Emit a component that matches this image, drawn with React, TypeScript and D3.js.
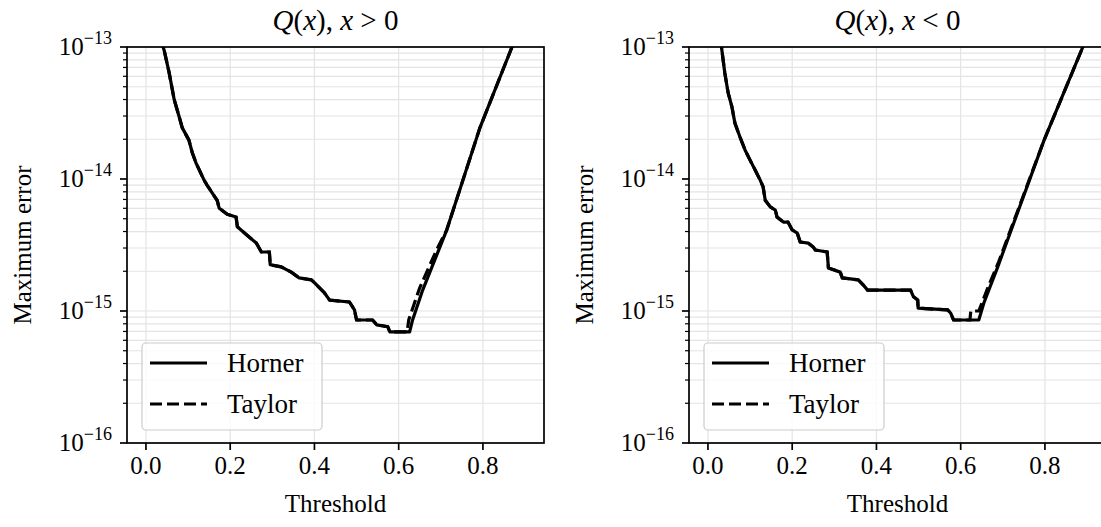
import React from "react";
import * as d3 from "d3";

// threshold values and maximum errors
const posThreshold = [0.031, 0.043, 0.055, 0.067, 0.079, 0.086, 0.102, 0.11, 0.119, 0.138, 0.145, 0.169, 0.174, 0.193, 0.214, 0.217, 0.238, 0.262, 0.274, 0.293, 0.295, 0.321, 0.345, 0.364, 0.393, 0.405, 0.424, 0.436, 0.483, 0.495, 0.5, 0.538, 0.548, 0.574, 0.579, 0.626, 0.633, 0.657, 0.714, 0.793, 0.869, 0.9];
const posHorner = [1.23e-13, 9.5e-14, 6.4e-14, 4.0e-14, 2.95e-14, 2.45e-14, 1.97e-14, 1.58e-14, 1.32e-14, 9.8e-15, 9.0e-15, 6.9e-15, 6.0e-15, 5.4e-15, 5.15e-15, 4.35e-15, 3.8e-15, 3.27e-15, 2.8e-15, 2.8e-15, 2.24e-15, 2.16e-15, 1.97e-15, 1.78e-15, 1.72e-15, 1.58e-15, 1.37e-15, 1.21e-15, 1.17e-15, 1.02e-15, 8.55e-16, 8.55e-16, 7.85e-16, 7.6e-16, 6.95e-16, 6.95e-16, 8.55e-16, 1.44e-15, 4.1e-15, 2.45e-14, 1.0e-13, 1.85e-13];
const posTaylorThreshold = [0.031, 0.043, 0.055, 0.067, 0.079, 0.086, 0.102, 0.11, 0.119, 0.138, 0.145, 0.169, 0.174, 0.193, 0.214, 0.217, 0.238, 0.262, 0.274, 0.293, 0.295, 0.321, 0.345, 0.364, 0.393, 0.405, 0.424, 0.436, 0.483, 0.495, 0.5, 0.538, 0.548, 0.574, 0.579, 0.62, 0.624, 0.65, 0.69, 0.714, 0.793, 0.869, 0.9];
const posTaylor = [1.23e-13, 9.5e-14, 6.4e-14, 4.0e-14, 2.95e-14, 2.45e-14, 1.97e-14, 1.58e-14, 1.32e-14, 9.8e-15, 9.0e-15, 6.9e-15, 6.0e-15, 5.4e-15, 5.15e-15, 4.35e-15, 3.8e-15, 3.27e-15, 2.8e-15, 2.8e-15, 2.24e-15, 2.16e-15, 1.97e-15, 1.78e-15, 1.72e-15, 1.58e-15, 1.37e-15, 1.21e-15, 1.17e-15, 1.02e-15, 8.55e-16, 8.55e-16, 7.85e-16, 7.6e-16, 6.95e-16, 6.95e-16, 8.6e-16, 1.5e-15, 2.9e-15, 4.1e-15, 2.45e-14, 1.0e-13, 1.85e-13];

const negThreshold = [0.024, 0.033, 0.04, 0.048, 0.057, 0.064, 0.076, 0.088, 0.1, 0.112, 0.124, 0.131, 0.136, 0.148, 0.16, 0.164, 0.179, 0.19, 0.2, 0.212, 0.219, 0.238, 0.25, 0.255, 0.283, 0.286, 0.314, 0.319, 0.357, 0.369, 0.379, 0.481, 0.488, 0.498, 0.499, 0.569, 0.576, 0.583, 0.643, 0.655, 0.688, 0.798, 0.89, 0.91];
const negHorner = [1.6e-13, 9.5e-14, 6.35e-14, 4.49e-14, 3.51e-14, 2.65e-14, 2.08e-14, 1.66e-14, 1.39e-14, 1.17e-14, 9.8e-15, 8.7e-15, 6.9e-15, 6.15e-15, 5.82e-15, 5.15e-15, 4.72e-15, 4.72e-15, 4.11e-15, 3.89e-15, 3.33e-15, 3.27e-15, 3.05e-15, 2.9e-15, 2.8e-15, 2.12e-15, 1.97e-15, 1.78e-15, 1.72e-15, 1.57e-15, 1.44e-15, 1.44e-15, 1.28e-15, 1.21e-15, 1.05e-15, 1.02e-15, 9.66e-16, 8.55e-16, 8.55e-16, 1.15e-15, 2.16e-15, 1.97e-14, 1.0e-13, 1.47e-13];
const negTaylorThreshold = [0.024, 0.033, 0.04, 0.048, 0.057, 0.064, 0.076, 0.088, 0.1, 0.112, 0.124, 0.131, 0.136, 0.148, 0.16, 0.164, 0.179, 0.19, 0.2, 0.212, 0.219, 0.238, 0.25, 0.255, 0.283, 0.286, 0.314, 0.319, 0.357, 0.369, 0.379, 0.481, 0.488, 0.498, 0.499, 0.569, 0.576, 0.583, 0.622, 0.624, 0.643, 0.667, 0.69, 0.798, 0.89, 0.91];
const negTaylor = [1.6e-13, 9.5e-14, 6.35e-14, 4.49e-14, 3.51e-14, 2.65e-14, 2.08e-14, 1.66e-14, 1.39e-14, 1.17e-14, 9.8e-15, 8.7e-15, 6.9e-15, 6.15e-15, 5.82e-15, 5.15e-15, 4.72e-15, 4.72e-15, 4.11e-15, 3.89e-15, 3.33e-15, 3.27e-15, 3.05e-15, 2.9e-15, 2.8e-15, 2.12e-15, 1.97e-15, 1.78e-15, 1.72e-15, 1.57e-15, 1.44e-15, 1.44e-15, 1.28e-15, 1.21e-15, 1.05e-15, 1.02e-15, 9.66e-16, 8.55e-16, 8.55e-16, 1.0e-15, 1.0e-15, 1.57e-15, 2.35e-15, 1.97e-14, 1.0e-13, 1.47e-13];

const xTicks = [0, 0.2, 0.4, 0.6, 0.8];
const yDecades = [-16, -15, -14, -13];
const seriesNames = ["Horner", "Taylor"];

const FONT = "Liberation Serif";
const TOP = 47;
const BOTTOM = 443;
const AXW = 417;

type PanelProps = {
  id: string;
  left: number;
  rel: string;
  hx: number[];
  hy: number[];
  tx: number[];
  ty: number[];
};

const Panel = ({ id, left, rel, hx, hy, tx, ty }: PanelProps) => {
  const x = d3.scaleLinear().domain([-0.045, 0.945]).range([left, left + AXW]);
  const y = d3.scaleLog().domain([1e-16, 1e-13]).range([BOTTOM, TOP]);
  const line = d3
    .line<[number, number]>()
    .x((d) => x(d[0]))
    .y((d) => y(d[1]));
  const horner = hx.map((v, i) => [v, hy[i]] as [number, number]);
  const taylor = tx.map((v, i) => [v, ty[i]] as [number, number]);

  const minor: number[] = [];
  for (let e = -16; e < -13; e++) {
    for (let m = 2; m <= 9; m++) minor.push(m * Math.pow(10, e));
  }
  const cx = left + AXW / 2;

  return (
    <g>
      <defs>
        <clipPath id={id}>
          <rect x={left} y={TOP} width={AXW} height={BOTTOM - TOP} />
        </clipPath>
      </defs>
      {/* grid */}
      <g stroke="#e4e4e4" strokeWidth={1.2}>
        {xTicks.map((t) => (
          <line key={t} x1={x(t)} x2={x(t)} y1={TOP} y2={BOTTOM} />
        ))}
        {minor.map((v) => (
          <line key={v} x1={left} x2={left + AXW} y1={y(v)} y2={y(v)} />
        ))}
        {yDecades.map((e) => (
          <line key={e} x1={left} x2={left + AXW} y1={y(Math.pow(10, e))} y2={y(Math.pow(10, e))} />
        ))}
      </g>
      {/* curves */}
      <g clipPath={`url(#${id})`} fill="none" stroke="#000" strokeWidth={3.2}>
        <path d={line(horner) || ""} strokeLinejoin="round" />
        <path d={line(taylor) || ""} strokeDasharray="12,5" />
      </g>
      {/* frame */}
      <rect x={left} y={TOP} width={AXW} height={BOTTOM - TOP} fill="none" stroke="#000" strokeWidth={1.7} />
      {/* x ticks */}
      {xTicks.map((t) => (
        <g key={t}>
          <line x1={x(t)} x2={x(t)} y1={BOTTOM} y2={BOTTOM + 7} stroke="#000" strokeWidth={1.7} />
          <text x={x(t)} y={BOTTOM + 31} textAnchor="middle" fontFamily={FONT} fontSize={25}>
            {t.toFixed(1)}
          </text>
        </g>
      ))}
      {/* y ticks */}
      {minor.map((v) => (
        <line key={v} x1={left - 4} x2={left} y1={y(v)} y2={y(v)} stroke="#000" strokeWidth={1.2} />
      ))}
      {yDecades.map((e) => (
        <g key={e}>
          <line x1={left - 7} x2={left} y1={y(Math.pow(10, e))} y2={y(Math.pow(10, e))} stroke="#000" strokeWidth={1.7} />
          <text x={left - 15} y={y(Math.pow(10, e)) + 8} textAnchor="end" fontFamily={FONT} fontSize={25}>
            10
            <tspan dy={-11} fontSize={18}>
              {"\u2212" + String(-e)}
            </tspan>
          </text>
        </g>
      ))}
      {/* title */}
      <text x={cx} y={30} textAnchor="middle" fontFamily={FONT} fontSize={29}>
        <tspan fontStyle="italic">Q</tspan>
        <tspan>(</tspan>
        <tspan fontStyle="italic">x</tspan>
        <tspan>{"), "}</tspan>
        <tspan fontStyle="italic">x</tspan>
        <tspan>{" " + rel + " 0"}</tspan>
      </text>
      {/* axis labels */}
      <text x={cx} y={512} textAnchor="middle" fontFamily={FONT} fontSize={25}>
        Threshold
      </text>
      <text
        transform={`translate(${left - 96},${(TOP + BOTTOM) / 2}) rotate(-90)`}
        textAnchor="middle"
        fontFamily={FONT}
        fontSize={25}
      >
        Maximum error
      </text>
      {/* legend */}
      <rect x={left + 15} y={343} width={180} height={87} rx={4} fill="#fff" fillOpacity={0.8} stroke="#cccccc" strokeWidth={1.2} />
      {seriesNames.map((name, i) => (
        <g key={name}>
          <line
            x1={left + 23}
            x2={left + 80}
            y1={363 + i * 41}
            y2={363 + i * 41}
            stroke="#000"
            strokeWidth={3.2}
            strokeDasharray={i === 1 ? "12,5" : undefined}
          />
          <text x={left + 100} y={372 + i * 41} fontFamily={FONT} fontSize={27}>
            {name}
          </text>
        </g>
      ))}
    </g>
  );
};

const App = () => {
  return (
    <svg width={1101} height={527} style={{ position: "absolute", left: 0, top: 0, background: "#fff" }}>
      <Panel id="clip-pos" left={127} rel=">" hx={posThreshold} hy={posHorner} tx={posTaylorThreshold} ty={posTaylor} />
      <Panel id="clip-neg" left={689} rel="<" hx={negThreshold} hy={negHorner} tx={negTaylorThreshold} ty={negTaylor} />
    </svg>
  );
};

export default App;
